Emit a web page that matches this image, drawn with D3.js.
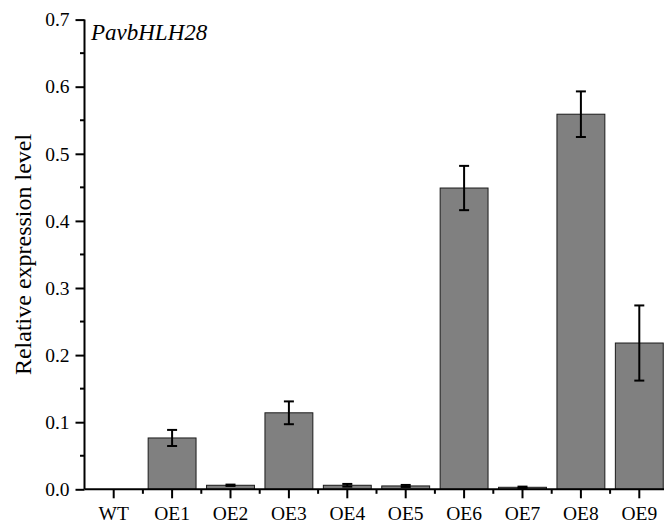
<!DOCTYPE html>
<html><head><meta charset="utf-8">
<script src="https://cdn.jsdelivr.net/npm/d3@7"></script>
<style>body{margin:0;background:#fff}svg{display:block}svg text{font-family:"Liberation Serif","Times New Roman",serif !important}</style>
</head><body><svg id="c" width="664" height="525"></svg>
<script>
const categories = ["WT","OE1","OE2","OE3","OE4","OE5","OE6","OE7","OE8","OE9"];
const values = [0, 0.0765, 0.006, 0.114, 0.006, 0.005, 0.449, 0.003, 0.559, 0.218];
const errors = [0, 0.012, 0.001, 0.017, 0.002, 0.0015, 0.033, 0.001, 0.034, 0.056];
const yTicks = [0,0.1,0.2,0.3,0.4,0.5,0.6,0.7];
const title = "PavbHLH28";
const yLabel = "Relative expression level";

const FONT = '"Liberation Serif","Times New Roman",serif';
const svg = d3.select("#c");
const x0 = 84.5, yBottom = 489.3;
const x = d3.scaleBand().domain(categories).range([x0, x0 + 58.4*10]).paddingInner(0.18).paddingOuter(0.09);
const y = d3.scaleLinear().domain([0,0.7]).range([yBottom, yBottom - 0.7*671]);

const g = svg.append("g");
// bars
g.selectAll("rect.bar").data(categories.filter((d,i)=>values[i]>0)).join("rect")
  .attr("x", d => x(d)).attr("width", x.bandwidth())
  .attr("y", d => y(values[categories.indexOf(d)]))
  .attr("height", d => yBottom - y(values[categories.indexOf(d)]))
  .attr("fill", "#808080").attr("stroke", "#1a1a1a").attr("stroke-width", 1);

// error bars
const eb = g.selectAll("g.eb").data(categories.filter((d,i)=>values[i]>0)).join("g");
eb.each(function(d){
  const i = categories.indexOf(d);
  const cx = x(d) + x.bandwidth()/2;
  const s = d3.select(this);
  const top = y(values[i]+errors[i]), bot = y(values[i]-errors[i]);
  s.append("line").attr("x1",cx).attr("x2",cx).attr("y1",top).attr("y2",bot).attr("stroke","#000").attr("stroke-width",2);
  [top,bot].forEach(yy => s.append("line").attr("x1",cx-5).attr("x2",cx+5).attr("y1",yy).attr("y2",yy).attr("stroke","#000").attr("stroke-width",2));
});

// y axis
const yAxis = d3.axisLeft(y).tickValues(yTicks).tickFormat(d3.format(".1f")).tickSize(9).tickPadding(6);
const ya = svg.append("g").attr("transform",`translate(${x0},0)`).call(yAxis).attr("font-family",FONT);
ya.select(".domain").attr("stroke","#000").attr("stroke-width",2).attr("d",`M0,${y(0.7)}V${yBottom}`);
ya.selectAll(".tick line").attr("stroke-width",2);
ya.selectAll("text").attr("font-size",19.5).attr("fill","#000").style("font-family",FONT);
// minor y ticks
ya.selectAll("line.minor").data(yTicks.slice(0,-1).map(v=>v+0.05)).join("line")
  .attr("class","minor").attr("x1",-4.5).attr("x2",0).attr("y1",d=>y(d)).attr("y2",d=>y(d)).attr("stroke","#000").attr("stroke-width",2);

// x axis
const xAxis = d3.axisBottom(x).tickSize(9).tickPadding(8).tickSizeOuter(0);
const xa = svg.append("g").attr("transform",`translate(0,${yBottom})`).call(xAxis).attr("font-family",FONT);
xa.select(".domain").attr("stroke","#000").attr("stroke-width",2).attr("d",`M${x0},0H670`);
xa.selectAll(".tick line").attr("stroke-width",2);
xa.selectAll("text").attr("font-size",19.5).attr("fill","#000").style("font-family",FONT);
// minor x ticks at band boundaries
xa.selectAll("line.minor").data(categories.slice(1)).join("line")
  .attr("class","minor").attr("x1",d=>x(d)+x.bandwidth()/2-x.step()/2).attr("x2",d=>x(d)+x.bandwidth()/2-x.step()/2)
  .attr("y1",0).attr("y2",4.5).attr("stroke","#000").attr("stroke-width",2);

// title
svg.append("text").attr("x",91).attr("y",40).attr("font-size",23).attr("font-style","italic").style("font-family",FONT).text(title);
// y label
svg.append("text").attr("transform",`translate(31,${(y(0)+y(0.7))/2})rotate(-90)`).attr("text-anchor","middle")
  .attr("font-size",24).style("font-family",FONT).text(yLabel);
</script></body></html>
